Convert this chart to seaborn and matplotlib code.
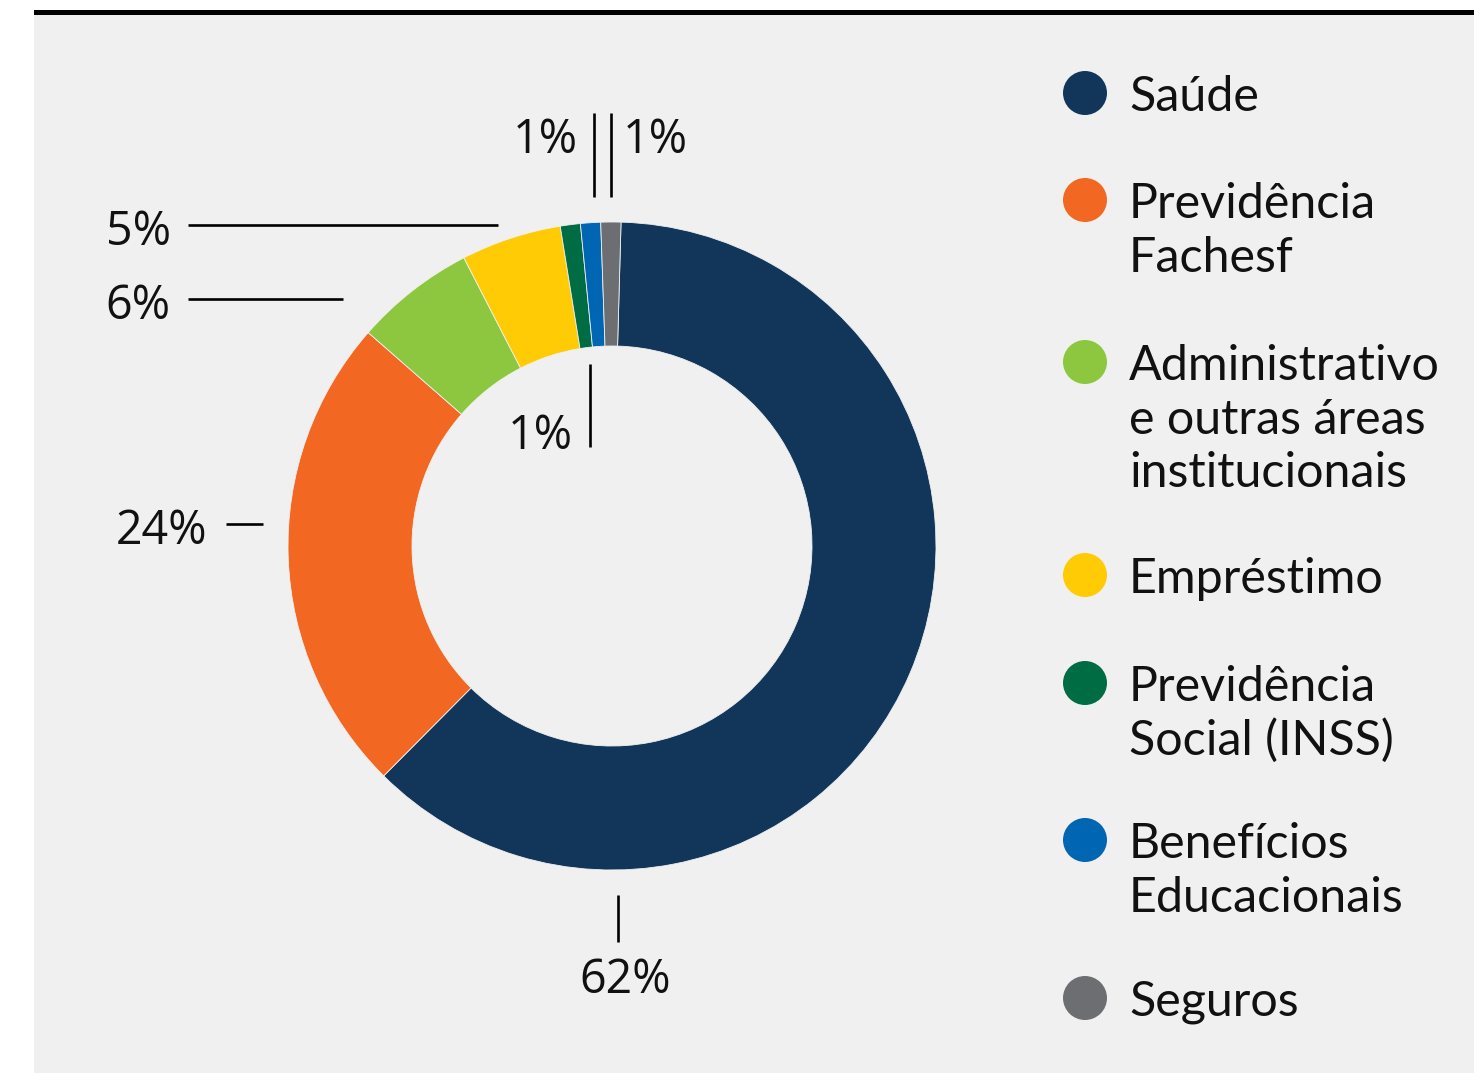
import matplotlib
matplotlib.use("Agg")
import matplotlib.pyplot as plt
from matplotlib.patches import Circle, Rectangle
import seaborn as sns

# Distribution of benefits by area (percent of total)
categories = [
    "Saúde",
    "Previdência\nFachesf",
    "Administrativo\ne outras áreas\ninstitucionais",
    "Empréstimo",
    "Previdência\nSocial (INSS)",
    "Benefícios\nEducacionais",
    "Seguros",
]
values = [62, 24, 6, 5, 1, 1, 1]
pct_labels = ["62%", "24%", "6%", "5%", "1%", "1%", "1%"]
colors = ["#12365a", "#f26722", "#8dc63f", "#ffcb05", "#006c44", "#0065b3", "#6d6e71"]

sns.set_theme(style="white")
plt.rcParams["font.family"] = ["Open Sans", "DejaVu Sans"]

W, H = 1474, 1073
fig = plt.figure(figsize=(W / 100, H / 100), dpi=100)
fig.patch.set_facecolor("white")

# canvas axes in pixel units (y measured from the top)
ax = fig.add_axes([0, 0, 1, 1])
ax.set_xlim(0, W)
ax.set_ylim(0, H)
ax.set_aspect("equal")
ax.axis("off")


def Y(y):
    return H - y


# panel background and top rule
ax.add_patch(Rectangle((34, 0), W - 34, Y(15), facecolor="#f0f0f0", edgecolor="none", zorder=0))
ax.add_patch(Rectangle((34, Y(15)), W - 34, 5, facecolor="black", edgecolor="none", zorder=1))

# donut
cx, cy, R = 612, 546, 324
hole = 200 / 324
start = 90 - values[-1] * 3.6 / 2 + 0.2
ax.pie(
    values,
    colors=colors,
    startangle=start,
    counterclock=False,
    center=(cx, Y(cy)),
    radius=R,
    wedgeprops=dict(width=R * (1 - hole), edgecolor="#f0f0f0", linewidth=0.6),
    frame=False,
)
ax.set_xlim(0, W)
ax.set_ylim(0, H)
ax.set_aspect("equal")
ax.axis("off")

# percentage labels: (text x, baseline y, alignment, leader line)
label_layout = [
    (625, 993, "center", ((618, 895), (618, 942))),
    (207, 544, "right", ((226, 524), (263, 524))),
    (171, 319, "right", ((188, 299), (343, 299))),
    (171, 245, "right", ((188, 225), (498, 225))),
    (573, 449, "right", ((590, 364), (590, 447))),
    (578, 153, "right", ((594, 113), (594, 197))),
    (623, 153, "left", ((611, 113), (611, 197))),
]
for lab, (tx, ty, ha, (p0, p1)) in zip(pct_labels, label_layout):
    ax.text(tx, Y(ty), lab, ha=ha, va="baseline", fontsize=33.5,
            color="#111111", family=["Open Sans", "DejaVu Sans"])
    ax.plot([p0[0], p1[0]], [Y(p0[1]), Y(p1[1])], color="black", lw=1.9,
            solid_capstyle="butt")

# legend
legend_y = [93, 200, 362, 575, 683, 840, 998]
for cat, col, yc in zip(categories, colors, legend_y):
    ax.add_patch(Circle((1085, Y(yc)), 22, facecolor=col, edgecolor="none"))
    for i, line in enumerate(cat.split("\n")):
        ax.text(1129, Y(yc + 18 + i * 53.5), line, ha="left", va="baseline",
                fontsize=34.8, color="#111111", family=["Lato", "DejaVu Sans"])

fig.savefig("out.png", dpi=100, facecolor="white")
